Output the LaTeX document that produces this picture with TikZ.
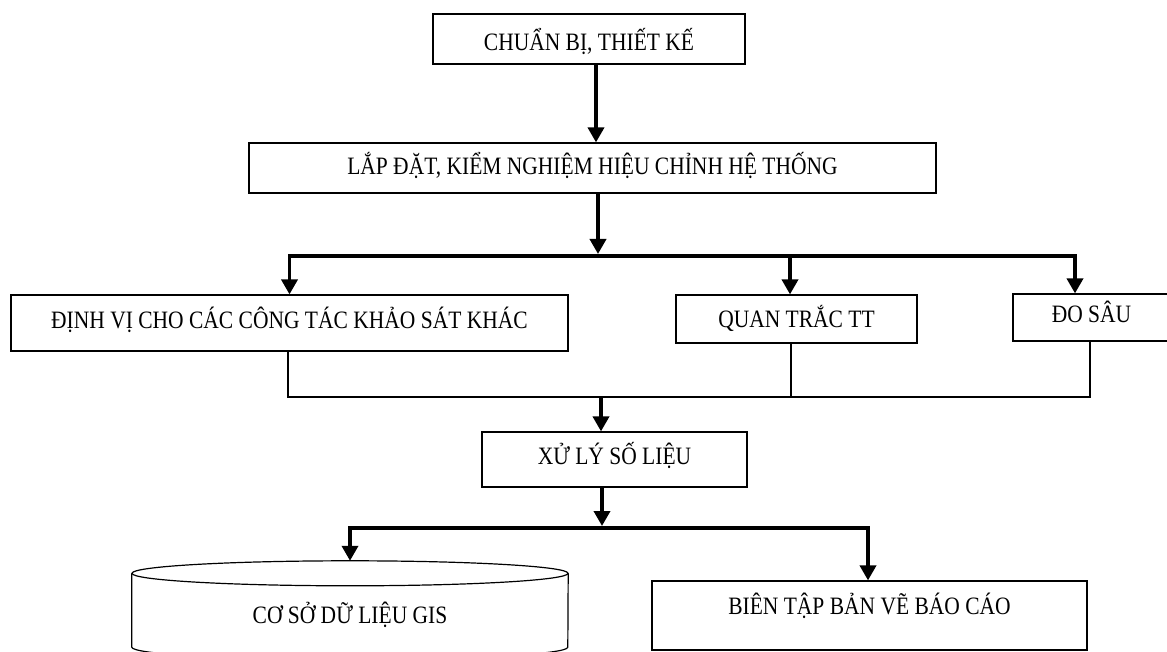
\documentclass[tikz,border=0pt]{standalone}
\usepackage{fontspec}
\setmainfont{Liberation Serif}[FakeStretch=0.86]
\usetikzlibrary{arrows.meta}
\begin{document}
\begin{tikzpicture}[x=1pt,y=-1pt,
  box/.style={draw, line width=1.2pt, inner sep=0pt, font=\fontsize{25}{28}\selectfont, text depth=0pt},
  thickarrow/.style={line width=3.6pt, -{Triangle[width=16pt,length=15pt]}},
  thickboth/.style={line width=3.6pt, line join=miter, {Triangle[width=16pt,length=15pt]}-{Triangle[width=16pt,length=15pt]}},
  thinline/.style={line width=1.2pt}]
\clip (0,0) rectangle (1167,652);
\fill[white] (0,0) rectangle (1167,652);
% boxes
\node[box, minimum width=312pt, minimum height=50pt, text height=24pt] (b1) at (589,39) {CHUẨN BỊ, THIẾT KẾ};
\node[box, minimum width=687pt, minimum height=50pt, text height=14pt] (b2) at (592.5,168) {LẮP ĐẶT, KIỂM NGHIỆM HIỆU CHỈNH HỆ THỐNG};
\node[box, minimum width=557pt, minimum height=56pt, text height=10pt] (d1) at (289.5,323) {ĐỊNH VỊ CHO CÁC CÔNG TÁC KHẢO SÁT KHÁC};
\node[box, minimum width=241pt, minimum height=48pt, text height=16pt] (d2) at (796.5,319) {QUAN TRẮC TT};
\node[box, minimum width=157pt, minimum height=47pt, text height=11pt] (d3) at (1091.5,317.5) {ĐO SÂU};
\node[box, minimum width=265pt, minimum height=55pt, text height=9pt] (xl) at (614.5,459.5) {XỬ LÝ SỐ LIỆU};
\node[box, minimum width=435pt, minimum height=69pt, text height=0pt, text depth=2pt] (bt) at (869.5,615.5) {BIÊN TẬP BẢN VẼ BÁO CÁO};
% database cylinder
\node[inner sep=0pt, minimum width=436pt, minimum height=98.5pt, font=\fontsize{25}{28}\selectfont, text height=26pt, text depth=0pt] (cyl) at (350,610.25) {CƠ SỞ DỮ LIỆU GIS};
\draw[thinline] ([yshift=-12.5pt]cyl.north) ellipse [x radius=218, y radius=12.5];
\draw[thinline] ([yshift=-12.5pt]cyl.north west) -- ([yshift=12.5pt]cyl.south west)
  arc[start angle=180, end angle=0, x radius=218, y radius=12.5] -- ([yshift=-12.5pt]cyl.north east);
% junction coordinates
\coordinate (j1) at (596,0);
\coordinate (j2) at (598,254);
\coordinate (hl) at (289.5,256);
\coordinate (hm) at (790,256);
\coordinate (hr) at (1075,256);
\coordinate (ml) at (288,397);
\coordinate (mm) at (791,397);
\coordinate (mr) at (1090,397);
\coordinate (m0) at (601,397);
\coordinate (k0) at (602,526);
\coordinate (kl) at (350,528);
\coordinate (kr) at (868,528);
% connectors
\draw[thickarrow] (b1.south -| j1) -- (b2.north -| j1);
\draw[thickarrow] (b2.south -| j2) -- (j2);
\draw[thickboth] (d1.north -| hl) -- (hl) -- (hr) -- (d3.north -| hr);
\draw[thickarrow] (hm) -- (d2.north -| hm);
\draw[thinline] (d1.south -| ml) -- (ml) -- (mr) -- (d3.south -| mr);
\draw[thinline] (d2.south -| mm) -- (mm);
\draw[thickarrow] (m0) -- (xl.north -| m0);
\draw[thickarrow] (xl.south -| k0) -- (k0);
\draw[thickboth] (cyl.north -| kl) -- (kl) -- (kr) -- (bt.north -| kr);
\end{tikzpicture}
\end{document}
